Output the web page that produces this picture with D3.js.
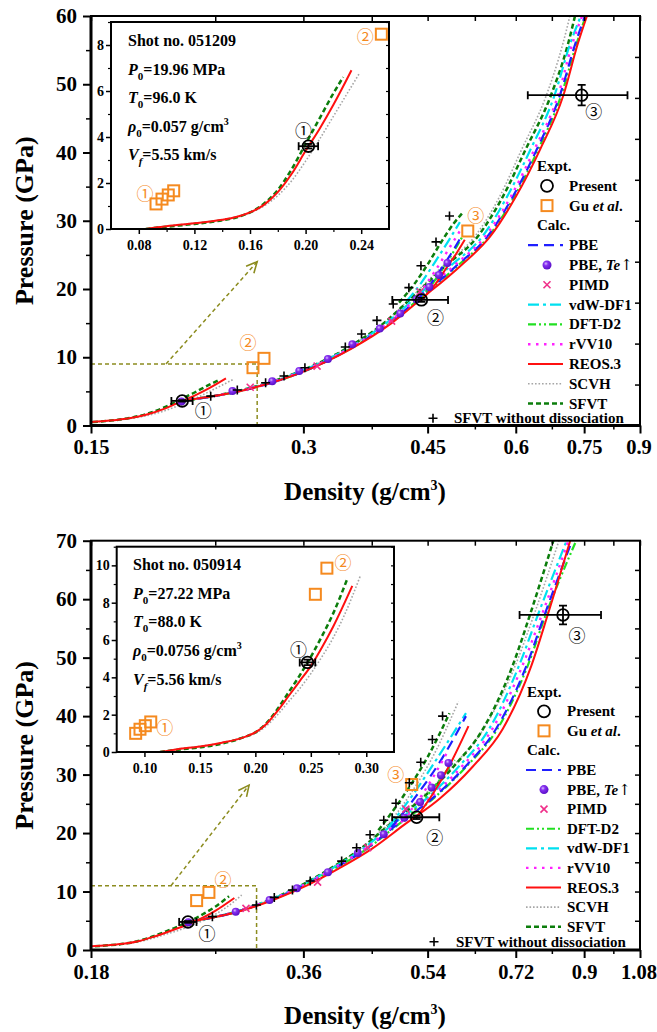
<!DOCTYPE html>
<html>
<head>
<meta charset="utf-8">
<script src="https://cdn.jsdelivr.net/npm/d3@7"></script>
<style>
  body { margin: 0; background: #fff; }
  svg text { font-family: "Liberation Serif", "Times New Roman", serif; font-weight: bold; }
</style>
</head>
<body>
<svg id="chart" width="657" height="1032"></svg>
<script>
// ===== upper panel: shot 051209 =====
const upXTicks = [0.15, 0.3, 0.45, 0.6, 0.75, 0.9];
const upXMinor = [0.225, 0.375, 0.525, 0.675, 0.825];
const upYTicks = [0, 10, 20, 30, 40, 50, 60];
const upInXTicks = [0.08, 0.12, 0.16, 0.20, 0.24];
const upInYTicks = [0, 2, 4, 6, 8];
const upShot = ["051209", "19.96", "96.0", "0.057", "5.55"];

// present expt: rho, P, rho err, P err
const upPresent = [[0.202, 3.6, 0.007, 0.1], [0.441, 18.4, 0.04, 0.3], [0.744, 48.4, 0.12, 1.5]];
const upGu = [[0.0924, 1.09], [0.0967, 1.30], [0.1012, 1.48], [0.1051, 1.66], [0.2545, 8.47], [0.2638, 9.84], [0.513, 28.5]];
const upTe = [[0.2015, 3.5], [0.238, 5.05], [0.271, 6.5], [0.296, 8.0], [0.325, 9.74], [0.352, 11.9], [0.385, 14.2], [0.4115, 16.4], [0.434, 18.5], [0.4525, 20.3], [0.467, 22.05], [0.48, 23.8]];
const upPimd = [[0.2522, 5.6], [0.3137, 8.7], [0.4001, 15.3], [0.439, 19.6]];
const upNoDiss = [[0.2217, 4.3], [0.2418, 5.2], [0.2652, 6.27], [0.2816, 7.25], [0.3015, 8.47], [0.344, 11.5], [0.3627, 13.4], [0.3814, 15.4], [0.4022, 17.8], [0.4233, 20.2], [0.4403, 23.4], [0.4625, 26.9], [0.4833, 30.7]];

// principal hugoniot (rho, P)
const upReosPrin = [[0.085, 0], [0.10, 0.12], [0.12, 0.25], [0.14, 0.40], [0.15, 0.52], [0.16, 0.72], [0.17, 1.05], [0.18, 1.6], [0.19, 2.4], [0.20, 3.4], [0.21, 4.35], [0.22, 5.4], [0.233, 6.9]];
const upSfvtPrin = [[0.085, 0], [0.10, 0.1], [0.12, 0.22], [0.14, 0.38], [0.15, 0.5], [0.16, 0.72], [0.17, 1.1], [0.18, 1.7], [0.19, 2.6], [0.20, 3.7], [0.21, 4.8], [0.22, 5.9], [0.227, 6.6]];
const upScvhPrin = [[0.085, 0], [0.10, 0.12], [0.12, 0.25], [0.14, 0.40], [0.15, 0.5], [0.16, 0.7], [0.17, 1.0], [0.18, 1.45], [0.19, 2.1], [0.20, 2.95], [0.21, 3.9], [0.22, 4.9], [0.232, 6.1], [0.239, 6.8]];

// second shock: pressures and density of each model
const upH2P = [3.6, 5.3, 7.9, 11.2, 15.0, 18.5, 23.3, 27.7, 33.5, 40.5, 48.2, 56, 60];
const upReosH2 = [0.202, 0.25, 0.30, 0.35, 0.40, 0.44, 0.50, 0.552, 0.60, 0.65, 0.70, 0.735, 0.757];
const upD2H2 = [0.202, 0.25, 0.30, 0.349, 0.398, 0.437, 0.495, 0.549, 0.597, 0.646, 0.695, 0.732, 0.754];
const upPbeH2 = [0.202, 0.25, 0.30, 0.349, 0.397, 0.436, 0.493, 0.547, 0.594, 0.643, 0.692, 0.729, 0.752];
const upRvvH2 = [0.202, 0.249, 0.298, 0.347, 0.395, 0.433, 0.489, 0.543, 0.590, 0.638, 0.688, 0.722, 0.745];
const upVdwH2 = [0.202, 0.249, 0.297, 0.346, 0.393, 0.430, 0.484, 0.538, 0.583, 0.630, 0.680, 0.717, 0.742];
const upSfvtH2 = [0.202, 0.248, 0.296, 0.344, 0.390, 0.425, 0.476, 0.530, 0.575, 0.620, 0.672, 0.712, 0.728];
const upScvhH2 = [0.202, 0.248, 0.296, 0.344, 0.390, 0.424, 0.472, 0.525, 0.569, 0.612, 0.662, 0.700, 0.716];

// third shock (rho, P)
const upReosH3 = [[0.441, 18.4], [0.46, 20.5], [0.48, 23.3], [0.495, 25.3], [0.508, 27.2]];
const upPbeH3 = [[0.435, 18.4], [0.455, 20.8], [0.475, 23.6], [0.49, 25.8], [0.503, 27.8]];
const upD2H3 = [[0.437, 18.4], [0.455, 20.5], [0.475, 23.3], [0.49, 25.5], [0.505, 27.8]];
const upRvvH3 = [[0.43, 18.4], [0.45, 21], [0.47, 24], [0.485, 26.3], [0.50, 28.5]];
const upVdwH3 = [[0.42, 18.2], [0.44, 20.8], [0.46, 23.8], [0.48, 26.8], [0.50, 29.8]];
const upSfvtH3 = [[0.41, 18.0], [0.43, 20.6], [0.45, 23.6], [0.47, 26.8], [0.49, 29.6], [0.506, 31.3]];

// ===== lower panel: shot 050914 =====
const loXTicks = [0.18, 0.36, 0.54, 0.72, 0.9, 1.08];
const loXMinor = [0.27, 0.45, 0.63, 0.81, 0.99];
const loYTicks = [0, 10, 20, 30, 40, 50, 60, 70];
const loInXTicks = [0.10, 0.15, 0.20, 0.25, 0.30];
const loInYTicks = [0, 2, 4, 6, 8, 10];
const loShot = ["050914", "27.22", "88.0", "0.0756", "5.56"];

const loPresent = [[0.247, 4.8, 0.007, 0.15], [0.521, 22.7, 0.04, 0.3], [0.84, 57.3, 0.111, 1.6]];
const loGu = [[0.0921, 1.0], [0.096, 1.22], [0.1008, 1.41], [0.1057, 1.61], [0.2541, 8.45], [0.2645, 9.85], [0.5127, 28.3]];
const loTe = [[0.2473, 4.74], [0.2887, 6.55], [0.3224, 8.55], [0.3525, 10.55], [0.390, 13.3], [0.430, 16.6], [0.468, 19.8], [0.5005, 22.6], [0.527, 25.3], [0.547, 27.8], [0.564, 29.9], [0.578, 32.0]];
const loPimd = [[0.2985, 7.13], [0.3771, 11.6], [0.4441, 17.5], [0.503, 24.1]];
const loNoDiss = [[0.2675, 5.7], [0.3088, 7.7], [0.3274, 9.0], [0.3474, 10.26], [0.3681, 11.8], [0.4079, 15.2], [0.4283, 17.5], [0.4475, 19.7], [0.468, 22.2], [0.487, 25.1], [0.5087, 28.6], [0.528, 32.1], [0.5484, 36.0], [0.567, 40.0]];

const loReosPrin = [[0.114, 0], [0.13, 0.15], [0.15, 0.3], [0.17, 0.5], [0.19, 0.8], [0.20, 1.05], [0.21, 1.5], [0.22, 2.2], [0.23, 3.0], [0.24, 3.8], [0.25, 4.6], [0.26, 5.6], [0.27, 6.7], [0.2874, 8.9]];
const loSfvtPrin = [[0.114, 0], [0.13, 0.12], [0.15, 0.25], [0.17, 0.45], [0.19, 0.8], [0.20, 1.05], [0.21, 1.55], [0.22, 2.3], [0.23, 3.2], [0.24, 4.1], [0.25, 5.1], [0.26, 6.2], [0.27, 7.4], [0.2824, 9.2]];
const loScvhPrin = [[0.114, 0], [0.13, 0.15], [0.15, 0.3], [0.17, 0.5], [0.19, 0.8], [0.20, 1.0], [0.21, 1.4], [0.22, 2.0], [0.23, 2.7], [0.24, 3.4], [0.25, 4.2], [0.26, 5.1], [0.27, 6.1], [0.28, 7.3], [0.2944, 9.4]];

const loH2P = [4.8, 6.5, 8.8, 11.1, 14.0, 17.3, 21.4, 25.9, 31.3, 37.8, 48.5, 57.5, 70];
const loReosH2 = [0.247, 0.29, 0.33, 0.365, 0.405, 0.45, 0.50, 0.562, 0.625, 0.69, 0.757, 0.80, 0.86];
const loD2H2 = [0.247, 0.289, 0.328, 0.362, 0.40, 0.443, 0.49, 0.55, 0.612, 0.678, 0.748, 0.795, 0.877];
const loPbeH2 = [0.247, 0.289, 0.328, 0.362, 0.399, 0.442, 0.488, 0.548, 0.61, 0.675, 0.745, 0.792, 0.865];
const loRvvH2 = [0.247, 0.288, 0.327, 0.36, 0.397, 0.44, 0.485, 0.543, 0.603, 0.667, 0.735, 0.785, 0.855];
const loVdwH2 = [0.247, 0.288, 0.326, 0.359, 0.396, 0.437, 0.481, 0.538, 0.597, 0.66, 0.727, 0.775, 0.85];
const loSfvtH2 = [0.247, 0.288, 0.326, 0.358, 0.394, 0.434, 0.476, 0.530, 0.587, 0.647, 0.712, 0.755, 0.814];
const loScvhH2 = [0.247, 0.288, 0.326, 0.358, 0.394, 0.433, 0.474, 0.527, 0.585, 0.648, 0.718, 0.765, 0.829];

const loReosH3 = [[0.521, 22.7], [0.55, 26.8], [0.58, 31.6], [0.617, 38.3]];
const loPbeH3 = [[0.48, 21], [0.52, 26.3], [0.565, 32.6], [0.612, 40]];
const loD2H3 = [[0.50, 22], [0.54, 26.5], [0.59, 32.5]];
const loRvvH3 = [[0.495, 21.8], [0.53, 26.5], [0.578, 34.2]];
const loVdwH3 = [[0.475, 21], [0.515, 26.6], [0.56, 33.2], [0.612, 40.5]];
const loSfvtH3 = [[0.46, 20.5], [0.50, 26.5], [0.54, 33], [0.58, 40.5]];
const loScvhH3 = [[0.47, 20.8], [0.51, 26.6], [0.55, 33.2], [0.597, 42.5]];

// ===== styles =====
const styles = {
  scvh: { color: "#a6a6a6", dash: "1.6,1.9", w: 1.6, label: "SCVH" },
  sfvt: { color: "#0b7d0b", dash: "5,3", w: 2.5, label: "SFVT" },
  vdw:  { color: "#00e0f0", dash: "11,4,3,4", w: 2.2, label: "vdW-DF1" },
  d2:   { color: "#22e022", dash: "8,3,2,3,2,3", w: 2.2, label: "DFT-D2" },
  pbe:  { color: "#1f1fff", dash: "10,6", w: 2.2, label: "PBE" },
  rvv:  { color: "#ff22ff", dash: "2.5,5.5", w: 2.4, label: "rVV10" },
  reos: { color: "#ff1010", dash: null, w: 2, label: "REOS.3" }
};
const ORANGE = "#f58a1f", PINK = "#f0308a", OLIVE = "#8c8c1f";
const CIRC = ["①", "②", "③"];

const svg = d3.select("#chart");
const defs = svg.append("defs");
const grad = defs.append("radialGradient").attr("id", "ball")
  .attr("cx", "38%").attr("cy", "35%").attr("r", "65%");
grad.append("stop").attr("offset", "0%").attr("stop-color", "#d9bdff");
grad.append("stop").attr("offset", "35%").attr("stop-color", "#8630f0");
grad.append("stop").attr("offset", "100%").attr("stop-color", "#5a10c8");

const zip = (rho, P) => rho.map((r, i) => [r, P[i]]);

// ----- marker helpers -----
function drawPresent(g, x, y, d) {
  const cx = x(d[0]), cy = y(d[1]);
  const xl = x(d[0] - d[2]), xr = x(d[0] + d[2]);
  const yt = y(d[1] + d[3]), yb = y(d[1] - d[3]);
  const s = g.append("g").attr("stroke", "#000").attr("stroke-width", 1.8).attr("fill", "none");
  s.append("line").attr("x1", xl).attr("x2", xr).attr("y1", cy).attr("y2", cy);
  s.append("line").attr("x1", xl).attr("x2", xl).attr("y1", cy - 4).attr("y2", cy + 4);
  s.append("line").attr("x1", xr).attr("x2", xr).attr("y1", cy - 4).attr("y2", cy + 4);
  s.append("line").attr("x1", cx).attr("x2", cx).attr("y1", yt).attr("y2", yb);
  s.append("line").attr("x1", cx - 4).attr("x2", cx + 4).attr("y1", yt).attr("y2", yt);
  s.append("line").attr("x1", cx - 4).attr("x2", cx + 4).attr("y1", yb).attr("y2", yb);
  s.append("circle").attr("cx", cx).attr("cy", cy).attr("r", 5.8);
}
function square(g, cx, cy) {
  g.append("rect").attr("x", cx - 5.5).attr("y", cy - 5.5).attr("width", 11).attr("height", 11)
    .attr("fill", "none").attr("stroke", ORANGE).attr("stroke-width", 2);
}
function ball(g, cx, cy, r) {
  g.append("circle").attr("cx", cx).attr("cy", cy).attr("r", r).attr("fill", "url(#ball)");
}
function cross(g, cx, cy) {
  g.append("path").attr("d", `M${cx - 3.5},${cy - 3.5}L${cx + 3.5},${cy + 3.5}M${cx - 3.5},${cy + 3.5}L${cx + 3.5},${cy - 3.5}`)
    .attr("stroke", PINK).attr("stroke-width", 1.6);
}
function plus(g, cx, cy) {
  g.append("path").attr("d", `M${cx - 4.5},${cy}L${cx + 4.5},${cy}M${cx},${cy - 4.5}L${cx},${cy + 4.5}`)
    .attr("stroke", "#000").attr("stroke-width", 1.6);
}
function circLabel(g, px, py, k, color) {
  g.append("text").attr("x", px).attr("y", py).text(CIRC[k])
    .attr("text-anchor", "middle").attr("dominant-baseline", "central")
    .style("font-family", '"Noto Sans CJK JP","DejaVu Sans",sans-serif')
    .style("font-weight", "normal").style("font-size", "17px").attr("fill", color);
}
function styleLine(sel, st) {
  sel.attr("fill", "none").attr("stroke", st.color).attr("stroke-width", st.w)
    .attr("stroke-dasharray", st.dash);
}

function drawPanel(cfg) {
  const X0 = 91, X1 = 640;
  const x = d3.scaleLog().domain(cfg.xDom).range([X0, X1]);
  const y = d3.scaleLinear().domain(cfg.yDom).range([cfg.yBot, cfg.yTop]);
  const g = svg.append("g");
  const line = d3.line().x(d => x(d[0])).y(d => y(d[1])).curve(d3.curveMonotoneX);

  defs.append("clipPath").attr("id", "clip-" + cfg.id).append("rect")
    .attr("x", X0).attr("y", cfg.yTop).attr("width", X1 - X0).attr("height", cfg.yBot - cfg.yTop);
  const plot = g.append("g").attr("clip-path", `url(#clip-${cfg.id})`);

  // zoom box + arrow
  const bx = x(cfg.box[0]), by = y(cfg.box[1]);
  plot.append("path").attr("d", `M${X0},${by}H${bx}V${cfg.yBot}H${X0}`)
    .attr("fill", "none").attr("stroke", OLIVE).attr("stroke-width", 1.5).attr("stroke-dasharray", "4,3");
  const ax0 = x(cfg.arrow[0]), ay0 = y(cfg.arrow[1]), ax1 = x(cfg.arrow[2]), ay1 = y(cfg.arrow[3]);
  plot.append("line").attr("x1", ax0).attr("y1", ay0).attr("x2", ax1).attr("y2", ay1)
    .attr("stroke", OLIVE).attr("stroke-width", 1.5).attr("stroke-dasharray", "4,3");
  const ang = Math.atan2(ay1 - ay0, ax1 - ax0);
  const hd = [ang + Math.PI - 0.45, ang + Math.PI + 0.45].map(a => [ax1 + 12 * Math.cos(a), ay1 + 12 * Math.sin(a)]);
  plot.append("path").attr("d", `M${hd[0][0]},${hd[0][1]}L${ax1},${ay1}L${hd[1][0]},${hd[1][1]}`)
    .attr("fill", "none").attr("stroke", OLIVE).attr("stroke-width", 1.6);

  // curves
  cfg.curves.forEach(c => styleLine(plot.append("path").attr("d", line(c[1])), styles[c[0]]));

  cfg.gu.forEach(d => square(plot, x(d[0]), y(d[1])));
  cfg.te.forEach(d => ball(plot, x(d[0]), y(d[1]), 4));
  cfg.pimd.forEach(d => cross(plot, x(d[0]), y(d[1])));
  cfg.noDiss.forEach(d => plus(plot, x(d[0]), y(d[1])));
  cfg.present.forEach(d => drawPresent(plot, x, y, d));

  cfg.presentLab.forEach((o, k) => {
    const d = cfg.present[k];
    circLabel(g, x(d[0]) + o[0], y(d[1]) + o[1], k, "#000");
  });
  cfg.guLab.forEach(o => {
    const d = cfg.gu[o[0]];
    circLabel(g, x(d[0]) + o[1], y(d[1]) + o[2], o[3], ORANGE);
  });

  // axes
  const font = a => a.attr("font-family", null).attr("font-size", null);
  g.append("g").attr("transform", `translate(0,${cfg.yBot})`)
    .call(d3.axisBottom(x).tickValues(cfg.xTicks).tickFormat(d => String(d)).tickSize(8).tickSizeOuter(0))
    .call(font)
    .call(a => a.select(".domain").remove())
    .call(a => a.selectAll("line").attr("stroke-width", 2))
    .call(a => a.selectAll("text").attr("y", 14).style("font-size", "20.5px"))
    .call(a => a.selectAll("text").filter((d, i, n) => i === n.length - 1).attr("dx", -1.5));
  g.append("g").attr("transform", `translate(0,${cfg.yBot})`)
    .call(d3.axisBottom(x).tickValues(cfg.xMinor).tickFormat("").tickSize(4).tickSizeOuter(0))
    .call(a => a.select(".domain").remove())
    .call(a => a.selectAll("line").attr("stroke-width", 1.5));
  g.append("g").attr("transform", `translate(0,${cfg.yTop})`)
    .call(d3.axisTop(x).tickValues(cfg.xTicks.concat(cfg.xMinor)).tickFormat("").tickSize(-5).tickSizeOuter(0))
    .call(a => a.select(".domain").remove())
    .call(a => a.selectAll("line").attr("stroke-width", 1.5));
  g.append("g").attr("transform", `translate(${X0},0)`)
    .call(d3.axisLeft(y).tickValues(cfg.yTicks).tickSize(8).tickPadding(6).tickSizeOuter(0))
    .call(font)
    .call(a => a.select(".domain").remove())
    .call(a => a.selectAll("line").attr("stroke-width", 2))
    .call(a => a.selectAll("text").style("font-size", "21px"));
  g.append("g").attr("transform", `translate(${X0},0)`)
    .call(d3.axisLeft(y).tickValues(cfg.yTicks.slice(0, -1).map(v => v + 5)).tickFormat("").tickSize(5).tickSizeOuter(0))
    .call(a => a.select(".domain").remove())
    .call(a => a.selectAll("line").attr("stroke-width", 1.5));
  g.append("g").attr("transform", `translate(${X1},0)`)
    .call(d3.axisRight(y).tickValues(d3.range(cfg.rightStep, cfg.yDom[1], cfg.rightStep)).tickFormat("").tickSize(-5).tickSizeOuter(0))
    .call(a => a.select(".domain").remove())
    .call(a => a.selectAll("line").attr("stroke-width", 1.5));
  g.append("rect").attr("x", X0).attr("y", cfg.yTop).attr("width", X1 - X0).attr("height", cfg.yBot - cfg.yTop)
    .attr("fill", "none").attr("stroke", "#000").attr("stroke-width", 2);
  g.append("line").attr("x1", X0).attr("x2", X1).attr("y1", cfg.yBot).attr("y2", cfg.yBot)
    .attr("stroke", "#000").attr("stroke-width", 3);
  g.append("line").attr("x1", X0).attr("x2", X0).attr("y1", cfg.yTop).attr("y2", cfg.yBot)
    .attr("stroke", "#000").attr("stroke-width", 3);

  // titles
  const tx = g.append("text").attr("x", 365).attr("y", cfg.yBot + 74).attr("text-anchor", "middle")
    .style("font-size", "25px");
  tx.append("tspan").text("Density (g/cm");
  tx.append("tspan").text("3").attr("dy", -10).style("font-size", "14px");
  tx.append("tspan").text(")").attr("dy", 10);
  g.append("text").attr("transform", `translate(33,${(cfg.yTop + cfg.yBot) / 2}) rotate(-90)`)
    .attr("text-anchor", "middle").style("font-size", "26px").text("Pressure (GPa)");

  drawInset(cfg);
  drawLegend(cfg);
}

function drawInset(cfg) {
  const b = cfg.inset;
  const x = d3.scaleLinear().domain(b.xDom).range([b.x0, b.x1]);
  const y = d3.scaleLinear().domain(b.yDom).range([b.y1, b.y0]);
  const line = d3.line().x(d => x(d[0])).y(d => y(d[1])).curve(d3.curveMonotoneX);
  const g = svg.append("g");
  g.append("rect").attr("x", b.x0).attr("y", b.y0).attr("width", b.x1 - b.x0).attr("height", b.y1 - b.y0)
    .attr("fill", "#fff");
  defs.append("clipPath").attr("id", "iclip-" + cfg.id).append("rect")
    .attr("x", b.x0).attr("y", b.y0).attr("width", b.x1 - b.x0).attr("height", b.y1 - b.y0);
  const plot = g.append("g").attr("clip-path", `url(#iclip-${cfg.id})`);
  cfg.prin.forEach(c => styleLine(plot.append("path").attr("d", line(c[1])), styles[c[0]]));
  cfg.gu.forEach(d => square(plot, x(d[0]), y(d[1])));
  drawPresent(plot, x, y, cfg.present[0]);

  const p0 = cfg.present[0];
  circLabel(g, x(p0[0]) + b.lab[0], y(p0[1]) + b.lab[1], 0, "#000");
  b.guLab.forEach(o => {
    const d = cfg.gu[o[0]];
    circLabel(g, x(d[0]) + o[1], y(d[1]) + o[2], o[3], ORANGE);
  });

  const fmt = d3.format(".2f");
  const font = a => a.attr("font-family", null).attr("font-size", null);
  g.append("g").attr("transform", `translate(0,${b.y1})`)
    .call(d3.axisBottom(x).tickValues(b.xTicks).tickFormat(fmt).tickSize(5).tickSizeOuter(0))
    .call(font)
    .call(a => a.select(".domain").remove())
    .call(a => a.selectAll("line").attr("stroke-width", 1.5))
    .call(a => a.selectAll("text").attr("y", 11).style("font-size", "14px"));
  g.append("g").attr("transform", `translate(0,${b.y1})`)
    .call(d3.axisBottom(x).tickValues(b.xMinor).tickFormat("").tickSize(3).tickSizeOuter(0))
    .call(a => a.select(".domain").remove())
    .call(a => a.selectAll("line").attr("stroke-width", 1.2));
  g.append("g").attr("transform", `translate(${b.x0},0)`)
    .call(d3.axisLeft(y).tickValues(b.yTicks).tickSize(5).tickPadding(2).tickSizeOuter(0))
    .call(font)
    .call(a => a.select(".domain").remove())
    .call(a => a.selectAll("line").attr("stroke-width", 1.5))
    .call(a => a.selectAll("text").style("font-size", "14px"));
  g.append("g").attr("transform", `translate(${b.x0},0)`)
    .call(d3.axisLeft(y).tickValues(d3.range(1, b.yDom[1] + 0.5, 2)).tickFormat("").tickSize(3).tickSizeOuter(0))
    .call(a => a.select(".domain").remove())
    .call(a => a.selectAll("line").attr("stroke-width", 1.2));
  g.append("g").attr("transform", `translate(${b.x1},0)`)
    .call(d3.axisRight(y).tickValues(d3.range(1, b.yDom[1] + 0.5, 1)).tickFormat("").tickSize(-3).tickSizeOuter(0))
    .call(a => a.select(".domain").remove())
    .call(a => a.selectAll("line").attr("stroke-width", 1.2));
  g.append("rect").attr("x", b.x0).attr("y", b.y0).attr("width", b.x1 - b.x0).attr("height", b.y1 - b.y0)
    .attr("fill", "none").attr("stroke", "#000").attr("stroke-width", 2);

  // shot info
  const s = cfg.shot;
  const t = g.append("g").style("font-size", "16px");
  const rowY = i => b.textY + i * b.textStep;
  t.append("text").attr("x", b.textX).attr("y", rowY(0)).text("Shot no. " + s[0]);
  const rows = [["P", "0", `=${s[1]} MPa`], ["T", "0", `=${s[2]} K`], ["ρ", "0", `=${s[3]} g/cm`], ["V", "f", `=${s[4]} km/s`]];
  rows.forEach((r, i) => {
    const tt = t.append("text").attr("x", b.textX).attr("y", rowY(i + 1));
    tt.append("tspan").text(r[0]).style("font-style", "italic");
    tt.append("tspan").text(r[1]).attr("dy", 5).style("font-size", "11px").style("font-style", r[1] === "f" ? "italic" : "normal");
    tt.append("tspan").text(r[2]).attr("dy", -5);
    if (i === 2) tt.append("tspan").text("3").attr("dy", -7).style("font-size", "10px");
  });
}

function drawLegend(cfg) {
  const L = cfg.legend;
  const g = svg.append("g").style("font-size", "15px");
  const row = i => L.y0 + i * L.step;
  const txt = (x0, yy, s) => g.append("text").attr("x", x0).attr("y", yy + 5).text(s);
  txt(L.hx, row(0), "Expt.");
  g.append("circle").attr("cx", L.sx).attr("cy", row(1)).attr("r", 6)
    .attr("fill", "none").attr("stroke", "#000").attr("stroke-width", 1.8);
  txt(L.tx, row(1), "Present");
  square(g, L.sx, row(2));
  const gu = txt(L.tx, row(2), "Gu ");
  gu.append("tspan").text("et al").style("font-style", "italic");
  gu.append("tspan").text(".");
  txt(L.hx, row(3), "Calc.");
  cfg.legendOrder.forEach((k, i) => {
    const yy = row(4 + i);
    if (k === "te") {
      ball(g, L.sx, yy, 4.5);
      const t = txt(L.tx, yy, "PBE, ");
      t.append("tspan").text("Te").style("font-style", "italic");
      t.append("tspan").text("↑").style("font-family", '"DejaVu Serif",serif').style("font-weight", "normal");
    } else if (k === "pimd") {
      cross(g, L.sx, yy);
      txt(L.tx, yy, "PIMD");
    } else {
      styleLine(g.append("line").attr("x1", L.lx0).attr("x2", L.lx1).attr("y1", yy).attr("y2", yy), styles[k]);
      txt(L.tx, yy, styles[k].label);
    }
  });
  plus(g, L.px, L.py);
  txt(L.pt, L.py, "SFVT without dissociation");
}

drawPanel({
  id: "up", xDom: [0.15, 0.9], yDom: [0, 60], yTop: 16, yBot: 425.5, rightStep: 6,
  xTicks: upXTicks, xMinor: upXMinor, yTicks: upYTicks,
  box: [0.258, 9], arrow: [0.1916, 9, 0.258, 24],
  curves: [
    ["scvh", upScvhPrin], ["sfvt", upSfvtPrin], ["reos", upReosPrin],
    ["scvh", zip(upScvhH2, upH2P)], ["sfvt", zip(upSfvtH2, upH2P)], ["vdw", zip(upVdwH2, upH2P)],
    ["d2", zip(upD2H2, upH2P)], ["pbe", zip(upPbeH2, upH2P)], ["rvv", zip(upRvvH2, upH2P)], ["reos", zip(upReosH2, upH2P)],
    ["sfvt", upSfvtH3], ["vdw", upVdwH3], ["d2", upD2H3], ["pbe", upPbeH3], ["rvv", upRvvH3], ["reos", upReosH3]
  ],
  prin: [["scvh", upScvhPrin], ["sfvt", upSfvtPrin], ["reos", upReosPrin]],
  present: upPresent, gu: upGu, te: upTe, pimd: upPimd, noDiss: upNoDiss,
  presentLab: [[21, 9], [14, 17], [12, 15]],
  guLab: [[4, -5, -26, 1], [6, 8, -16, 2]],
  shot: upShot,
  inset: {
    x0: 111, x1: 389, y0: 22, y1: 229, xDom: [0.06, 0.26], yDom: [0, 9],
    xTicks: upInXTicks, xMinor: [0.10, 0.14, 0.18, 0.22], yTicks: upInYTicks,
    lab: [-5, -17], guLab: [[0, -11, -11, 0], [4, -16, 1, 1]],
    textX: 128, textY: 46, textStep: 28.5
  },
  legendOrder: ["pbe", "te", "pimd", "vdw", "d2", "rvv", "reos", "scvh", "sfvt"],
  legend: { y0: 166, step: 19.8, hx: 537, sx: 547, tx: 569, lx0: 528, lx1: 563, px: 433, py: 418.3, pt: 454 }
});

drawPanel({
  id: "lo", xDom: [0.18, 1.08], yDom: [0, 70], yTop: 540.7, yBot: 950, rightStep: 5,
  xTicks: loXTicks, xMinor: loXMinor, yTicks: loYTicks,
  box: [0.309, 11], arrow: [0.2337, 11, 0.3015, 28.2],
  curves: [
    ["scvh", loScvhPrin], ["sfvt", loSfvtPrin], ["reos", loReosPrin],
    ["scvh", zip(loScvhH2, loH2P)], ["sfvt", zip(loSfvtH2, loH2P)], ["vdw", zip(loVdwH2, loH2P)],
    ["d2", zip(loD2H2, loH2P)], ["pbe", zip(loPbeH2, loH2P)], ["rvv", zip(loRvvH2, loH2P)], ["reos", zip(loReosH2, loH2P)],
    ["scvh", loScvhH3], ["sfvt", loSfvtH3], ["vdw", loVdwH3], ["d2", loD2H3], ["pbe", loPbeH3], ["rvv", loRvvH3], ["reos", loReosH3]
  ],
  prin: [["scvh", loScvhPrin], ["sfvt", loSfvtPrin], ["reos", loReosPrin]],
  present: loPresent, gu: loGu, te: loTe, pimd: loPimd, noDiss: loNoDiss,
  presentLab: [[19, 11], [18, 19], [14, 20]],
  guLab: [[5, 14, -14, 1], [6, -16, -11, 2]],
  shot: loShot,
  inset: {
    x0: 116.7, x1: 394, y0: 546.7, y1: 752, xDom: [0.075, 0.325], yDom: [0, 11],
    xTicks: loInXTicks, xMinor: [0.125, 0.175, 0.225, 0.275], yTicks: loInYTicks,
    lab: [-9, -14], guLab: [[3, 14, 5, 0], [5, 16, -7, 1]],
    textX: 133, textY: 570, textStep: 28.7
  },
  legendOrder: ["pbe", "te", "pimd", "d2", "vdw", "rvv", "reos", "scvh", "sfvt"],
  legend: { y0: 691.7, step: 19.58, hx: 527, sx: 544, tx: 567, lx0: 526, lx1: 561, px: 434, py: 941.7, pt: 456 }
});
</script>
</body>
</html>
